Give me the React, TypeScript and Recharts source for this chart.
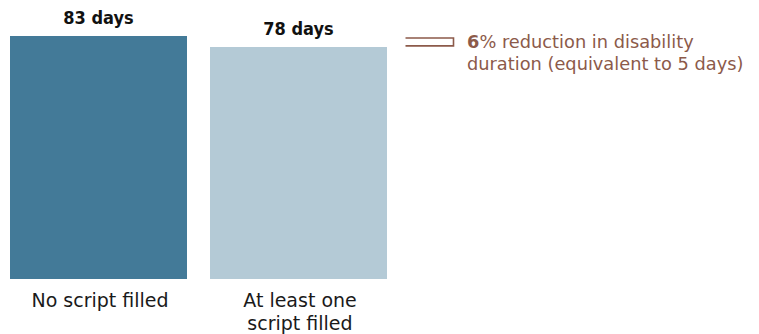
import { BarChart, Bar, XAxis, YAxis, LabelList, ReferenceArea, Cell } from "recharts";

// "\n" marks where the source chart breaks a category label
const categories = ["No script filled", "At least one\nscript filled"];
const durationDays = [83, 78];
const barColors = ["#437a98", "#b4cad6"];
// the source chart's value axis does not start at zero
const axisFloor = -27;

const data = categories.map((name, i) => ({ name, days: durationDays[i] }));

const diffDays = durationDays[0] - durationDays[1];
const reductionPct = Math.round((diffDays / durationDays[0]) * 100);

const BROWN = "#8c5a4a";
const FONT = "'DejaVu Sans', sans-serif";
const BOLD_FONT = "'DejaVu Sans Condensed', 'DejaVu Sans', sans-serif";

function CategoryTick({ x, y, payload }: any) {
  const lines = String(payload.value).split("\n");
  return (
    <text
      x={x + 2}
      y={y + 27.5}
      textAnchor="middle"
      fontSize={19}
      fontFamily={FONT}
      fill="#1a1a1a"
    >
      {lines.map((line, i) => (
        <tspan key={i} x={x + 2} dy={i === 0 ? 0 : 23}>
          {line}
        </tspan>
      ))}
    </text>
  );
}

function DiffBracket({ x, y, width, height }: any) {
  const left = x + width + 7.5;
  const right = left + 48;
  const top = y + 2;
  const bottom = y + height - 1.2;
  const textX = right + 13.5;
  return (
    <g>
      <path
        d={`M${left},${top}H${right}V${bottom}H${left}`}
        fill="none"
        stroke={BROWN}
        strokeWidth={1.6}
      />
      <text x={textX} y={y + 12} fontSize={17.8} fontFamily={FONT} fill={BROWN}>
        <tspan fontWeight="bold">{reductionPct}</tspan>
        <tspan>% reduction in disability</tspan>
        <tspan x={textX} dy={22}>
          duration (equivalent to {diffDays} days)
        </tspan>
      </text>
    </g>
  );
}

export default function App() {
  return (
    <div style={{ position: "absolute", left: -2.5, top: 0 }}>
      <BarChart
        width={762}
        height={334}
        data={data}
        margin={{ top: 36, right: 362, bottom: 0, left: 0 }}
      >
        <XAxis
          dataKey="name"
          height={55}
          tickLine={false}
          axisLine={false}
          tickSize={0}
          tickMargin={0}
          interval={0}
          tick={<CategoryTick />}
        />
        <YAxis hide domain={[axisFloor, Math.max(...durationDays)]} />
        <ReferenceArea
          y1={durationDays[1]}
          y2={durationDays[0]}
          shape={<DiffBracket />}
        />
        <Bar
          dataKey={(d: any) => [axisFloor, d.days]}
          barSize={177}
          isAnimationActive={false}
        >
          {data.map((d, i) => (
            <Cell key={d.name} fill={barColors[i]} />
          ))}
          <LabelList
            dataKey="days"
            position="top"
            offset={12}
            formatter={(v: any) => `${v} days`}
            fill="#111"
            fontSize={18}
            fontWeight="bold"
            fontFamily={BOLD_FONT}
          />
        </Bar>
      </BarChart>
    </div>
  );
}
